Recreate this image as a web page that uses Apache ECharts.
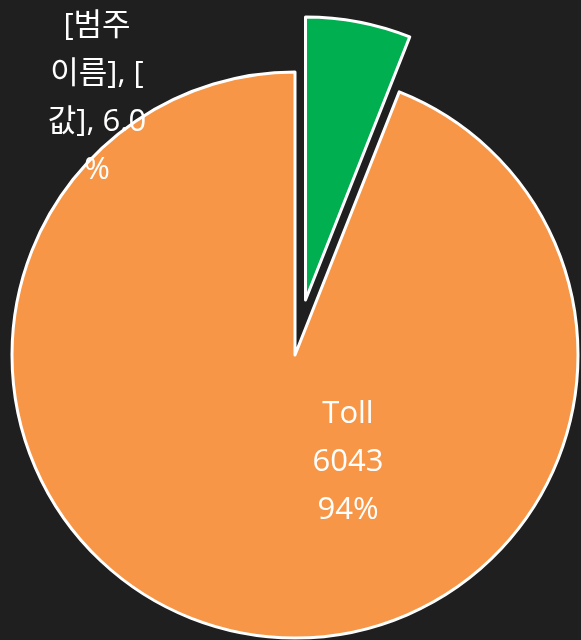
<!DOCTYPE html>
<html>
<head>
<meta charset="utf-8">
<script src="https://cdn.jsdelivr.net/npm/echarts@6/dist/echarts.min.js"></script>
<style>
html,body{margin:0;padding:0;background:#1f1f1f;}
#c{width:581px;height:640px;}
</style>
</head>
<body>
<div id="c"></div>
<script>
const categories = ['[범주 이름]', 'Toll'];
const values = [386, 6043];
const labelTexts = ['[범주\n이름], [\n값], 6.0\n%', 'Toll\n6043\n94%'];
const colors = ['#00B050', '#F79646'];

const chart = echarts.init(document.getElementById('c'));
const FONT = '"Open Sans", "Noto Sans CJK KR", sans-serif';
const labelPos = [[97, 98], [348, 462]];
const CENTER = [295, 355];
const RADIUS = 283;

chart.setOption({
  backgroundColor: '#1f1f1f',
  animation: false,
  series: [{
    type: 'pie',
    center: CENTER,
    radius: RADIUS,
    startAngle: 90,
    clockwise: true,
    selectedMode: 'multiple',
    selectedOffset: 56,
    emphasis: { disabled: true },
    itemStyle: { borderColor: '#ffffff', borderWidth: 3 },
    label: { show: false },
    labelLine: { show: false },
    data: categories.map((c, i) => ({
      name: c,
      value: values[i],
      selected: i === 0,
      itemStyle: { color: colors[i] }
    }))
  }, {
    type: 'pie',
    center: CENTER,
    radius: RADIUS,
    startAngle: 90,
    clockwise: true,
    silent: true,
    selectedMode: false,
    avoidLabelOverlap: false,
    emphasis: { disabled: true },
    itemStyle: { color: 'rgba(0,0,0,0)', borderWidth: 0 },
    labelLine: { show: false },
    label: {
      show: true,
      position: 'inside',
      color: '#ffffff',
      fontSize: 31,
      lineHeight: 48,
      fontFamily: FONT,
      align: 'center',
      formatter: p => labelTexts[p.dataIndex]
    },
    labelLayout: function (p) {
      const pos = labelPos[p.dataIndex];
      return { x: pos[0], y: pos[1], align: 'center', verticalAlign: 'middle' };
    },
    data: categories.map((c, i) => ({ name: c, value: values[i] }))
  }]
});
</script>
</body>
</html>
